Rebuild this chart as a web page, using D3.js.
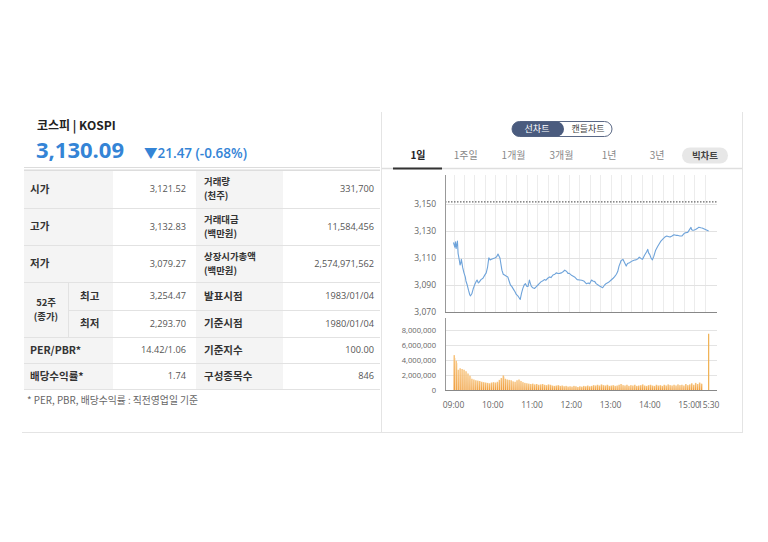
<!DOCTYPE html>
<html><head><meta charset="utf-8">
<script src="https://cdn.jsdelivr.net/npm/d3@7"></script>
<style>
body{margin:0;background:#fff;}
svg{display:block;font-family:'Open Sans','Noto Sans CJK KR',sans-serif;}
</style></head><body>
<svg id="c" width="768" height="542"></svg>
<script>
// ---------------- data ----------------
const title = "코스피 | KOSPI";
const lastPrice = "3,130.09";
const changeText = "▼21.47 (-0.68%)";
const prevClose = 3151.56;
const leftLabels = ["시가", "고가", "저가"];
const leftValues = ["3,121.52", "3,132.83", "3,079.27"];
const week52Title = ["52주", "(종가)"];
const week52Labels = ["최고", "최저"];
const week52Values = ["3,254.47", "2,293.70"];
const extraLabels = ["PER/PBR*", "배당수익률*"];
const extraValues = ["14.42/1.06", "1.74"];
const rightLabels = [["거래량", "(천주)"], ["거래대금", "(백만원)"], ["상장시가총액", "(백만원)"], ["발표시점"], ["기준시점"], ["기준지수"], ["구성종목수"]];
const rightValues = ["331,700", "11,584,456", "2,574,971,562", "1983/01/04", "1980/01/04", "100.00", "846"];
const footnote = "* PER, PBR, 배당수익률 : 직전영업일 기준";
const chartTypes = ["선차트", "캔들차트"];
const periodTabs = ["1일", "1주일", "1개월", "3개월", "1년", "3년"];
const bigChart = "빅차트";
const priceTicks = [3070, 3090, 3110, 3130, 3150];
const volumeTicks = [0, 2000000, 4000000, 6000000, 8000000];
const timeTicks = ["09:00", "10:00", "11:00", "12:00", "13:00", "14:00", "15:00", "15:30"];

const priceTimes = ["09:00","09:02","09:03","09:04","09:05","09:06","09:07","09:09","09:10","09:11","09:12","09:13","09:14","09:16","09:18","09:19","09:21","09:23","09:25","09:26","09:28","09:30","09:33","09:35","09:36","09:38","09:39","09:42","09:45","09:48","09:50","09:52","09:54","09:56","09:58","10:00","10:03","10:05","10:06","10:07","10:08","10:10","10:11","10:13","10:14","10:16","10:18","10:21","10:23","10:25","10:27","10:29","10:32","10:34","10:36","10:39","10:42","10:44","10:46","10:48","10:50","10:52","10:54","10:56","10:57","10:59","11:01","11:04","11:07","11:09","11:11","11:14","11:16","11:19","11:21","11:24","11:27","11:29","11:32","11:35","11:37","11:40","11:42","11:45","11:48","11:50","11:53","11:55","11:57","12:01","12:05","12:09","12:13","12:16","12:19","12:23","12:26","12:28","12:31","12:33","12:36","12:38","12:41","12:44","12:48","12:51","12:53","12:57","13:01","13:04","13:06","13:09","13:11","13:13","13:15","13:16","13:19","13:21","13:24","13:26","13:29","13:32","13:34","13:37","13:39","13:42","13:44","13:47","13:49","13:52","13:55","13:57","13:58","14:00","14:02","14:04","14:06","14:09","14:12","14:15","14:17","14:21","14:23","14:26","14:28","14:31","14:34","14:37","14:40","14:42","14:46","14:49","14:53","14:55","14:58","15:00","15:03","15:04","15:06","15:08","15:10","15:13","15:15","15:18","15:20","15:30"];
const prices = [3121.5,3118,3122,3117,3120,3122.5,3113.5,3108,3104.8,3106,3109,3106,3103,3099,3096,3093,3090,3086,3082.6,3082,3083.5,3087,3091,3093,3093.7,3091.5,3092,3094,3095,3097.5,3099,3103,3110.2,3108.5,3109,3109.5,3110,3110.5,3111,3112,3113,3111,3110,3104,3101,3098,3097.4,3096.5,3096,3093,3090,3089,3086.6,3085,3083,3081.5,3079.3,3084,3087.5,3090,3091,3089,3089,3093.7,3092,3089,3088,3087.5,3089,3090,3091,3092.5,3093,3094,3093.5,3095,3096,3095.5,3097.4,3098,3099,3098.5,3098.6,3099,3100,3101,3100,3098.6,3098.6,3097,3096,3094,3093.7,3093.5,3093,3091,3091.5,3091,3093.7,3093,3092.5,3091,3090,3089,3088,3090,3091,3092,3093.7,3095,3096,3098,3100,3104,3106.5,3108,3109,3107,3104,3106,3106.5,3107.5,3108,3108.5,3108.6,3109.5,3110.6,3109.5,3109,3112,3114.5,3116.4,3114,3112.5,3110,3108.6,3111,3115.8,3118.5,3120.9,3122.5,3124.6,3125.5,3126.3,3126,3125.5,3126.3,3127.2,3126.8,3126.8,3126.3,3126.3,3128.4,3128.8,3129,3130.5,3132.7,3131,3130.5,3130.8,3131.2,3132,3132.83,3132.4,3132.2,3130.09];

// volume per 3-minute bar from 09:00 (millions of shares)
const volumeStart = "09:00";
const volumeStepMin = 3;
const volumesM = [4.65,3.9,2.7,2.9,2.8,2.7,2.5,2.2,1.9,1.5,1.4,1.3,1.25,1.2,1.1,1.05,1.0,0.95,0.9,1.0,1.05,1.0,1.1,1.35,1.6,1.95,1.5,1.4,1.35,1.3,1.15,1.1,1.3,1.4,1.2,1.05,0.95,0.9,0.85,0.8,0.85,0.75,0.8,0.7,0.75,0.8,0.7,0.65,0.75,0.7,0.6,0.55,0.6,0.65,0.55,0.6,0.5,0.55,0.45,0.5,0.45,0.55,0.5,0.4,0.5,0.45,0.55,0.5,0.6,0.5,0.55,0.65,0.6,0.7,0.6,0.75,0.65,0.6,0.7,0.55,0.6,0.65,0.55,0.6,0.7,0.8,0.65,0.6,0.7,0.55,0.65,0.6,0.7,0.55,0.6,0.65,0.75,0.6,0.55,0.65,0.7,0.6,0.55,0.7,0.6,0.65,0.55,0.7,0.6,0.75,0.65,0.6,0.7,0.6,0.75,0.65,0.7,0.6,0.8,0.65,0.75,0.9,0.7,0.95,0.8,1.0,0.85];
const closingTime = "15:30";
const closingVolumeM = 7.5;

// ---------------- drawing ----------------
const svg = d3.select("#c");
const FONT_KR = "'Noto Sans CJK KR','Open Sans',sans-serif";
const blue = "#3484d6";

svg.append("line").attr("x1", 381.5).attr("x2", 381.5).attr("y1", 112).attr("y2", 432).attr("stroke", "#e4e4e4");
svg.append("line").attr("x1", 742.5).attr("x2", 742.5).attr("y1", 112).attr("y2", 432).attr("stroke", "#e4e4e4");
svg.append("line").attr("x1", 22).attr("x2", 743).attr("y1", 432.5).attr("y2", 432.5).attr("stroke", "#e4e4e4");

svg.append("text").attr("x", 37).attr("y", 130).attr("font-size", 12).attr("font-weight", 600)
  .attr("fill", "#222").attr("font-family", FONT_KR).text(title);
svg.append("text").attr("x", 36).attr("y", 157.5).attr("font-size", 22).attr("font-weight", 700)
  .attr("fill", blue).text(lastPrice);
svg.append("text").attr("x", 144).attr("y", 157.5).attr("font-size", 13.5).attr("font-weight", 600)
  .attr("fill", blue).text(changeText);
svg.append("line").attr("x1", 24).attr("x2", 380).attr("y1", 167.5).attr("y2", 167.5).attr("stroke", "#dcdcdc");

const rowB = [170, 208, 245, 282, 310, 337, 363, 389];
const colB = [24, 113, 196, 283, 380];
const shade = "#f4f4f4";
const g = svg.append("g");
g.append("rect").attr("x", colB[0]).attr("y", rowB[0]).attr("width", colB[1] - colB[0]).attr("height", rowB[7] - rowB[0]).attr("fill", shade);
g.append("rect").attr("x", colB[2]).attr("y", rowB[0]).attr("width", colB[3] - colB[2]).attr("height", rowB[7] - rowB[0]).attr("fill", shade);
rowB.forEach((y, i) => {
  const x1 = (i === 4) ? 68 : colB[0];
  g.append("line").attr("x1", x1).attr("x2", colB[2]).attr("y1", y + 0.5).attr("y2", y + 0.5).attr("stroke", "#e2e2e2");
  g.append("line").attr("x1", colB[2]).attr("x2", colB[4]).attr("y1", y + 0.5).attr("y2", y + 0.5).attr("stroke", "#e2e2e2");
});
g.append("line").attr("x1", 68.5).attr("x2", 68.5).attr("y1", rowB[3]).attr("y2", rowB[5]).attr("stroke", "#e2e2e2");
g.append("line").attr("x1", 24).attr("x2", 380).attr("y1", 170).attr("y2", 170).attr("stroke", "#d8d8d8");

function label(x, yc, lines, anchor) {
  const lh = 13.8;
  lines.forEach((s, i) => {
    g.append("text").attr("x", x).attr("y", yc + (i - (lines.length - 1) / 2) * lh).attr("dy", "0.35em")
      .attr("font-size", lines.length > 1 ? 9.4 : 10.5).attr("font-weight", 700)
      .attr("fill", "#333").attr("font-family", FONT_KR).attr("text-anchor", anchor || "start").text(s);
  });
}
function value(x, yc, s) {
  g.append("text").attr("x", x).attr("y", yc).attr("dy", "0.35em").attr("font-size", 9.2)
    .attr("fill", "#555").attr("text-anchor", "end").text(s);
}
const mid = i => (rowB[i] + rowB[i + 1]) / 2;
leftLabels.forEach((s, i) => { label(30, mid(i), [s]); value(186, mid(i), leftValues[i]); });
label(46, (rowB[3] + rowB[5]) / 2, week52Title, "middle");
week52Labels.forEach((s, i) => { label(80, mid(3 + i), [s]); value(186, mid(3 + i), week52Values[i]); });
extraLabels.forEach((s, i) => { label(30, mid(5 + i), [s]); value(186, mid(5 + i), extraValues[i]); });
rightLabels.forEach((s, i) => { label(204, mid(i), s); value(374, mid(i), rightValues[i]); });
svg.append("text").attr("x", 27).attr("y", 401).attr("dy", "0.35em").attr("font-size", 9.8)
  .attr("fill", "#666").attr("font-family", FONT_KR).text(footnote);

const pill = svg.append("g");
pill.append("rect").attr("x", 512).attr("y", 121.5).attr("width", 100).attr("height", 15).attr("rx", 7.5)
  .attr("fill", "#fff").attr("stroke", "#5a6885");
pill.append("rect").attr("x", 512).attr("y", 121.5).attr("width", 52).attr("height", 15).attr("rx", 7.5)
  .attr("fill", "#4a5b7e");
pill.append("text").attr("x", 537).attr("y", 129).attr("dy", "0.35em").attr("text-anchor", "middle")
  .attr("font-size", 9).attr("fill", "#fff").attr("font-family", FONT_KR).text(chartTypes[0]);
pill.append("text").attr("x", 588).attr("y", 129).attr("dy", "0.35em").attr("text-anchor", "middle")
  .attr("font-size", 9).attr("fill", "#444").attr("font-family", FONT_KR).text(chartTypes[1]);

const tabX = d3.scalePoint().domain(periodTabs).range([418, 657]);
periodTabs.forEach((s, i) => {
  svg.append("text").attr("x", tabX(s)).attr("y", 155.5).attr("dy", "0.35em").attr("text-anchor", "middle")
    .attr("font-size", 10).attr("font-weight", i === 0 ? 700 : 400).attr("fill", i === 0 ? "#222" : "#888")
    .attr("font-family", FONT_KR).text(s);
});
svg.append("rect").attr("x", 682).attr("y", 147.5).attr("width", 46).attr("height", 16).attr("rx", 8).attr("fill", "#e7e7e7");
svg.append("text").attr("x", 705).attr("y", 155.5).attr("dy", "0.35em").attr("text-anchor", "middle")
  .attr("font-size", 9.5).attr("font-weight", 700).attr("fill", "#444").attr("font-family", FONT_KR).text(bigChart);
svg.append("line").attr("x1", 382).attr("x2", 742).attr("y1", 168.5).attr("y2", 168.5).attr("stroke", "#dedede").attr("stroke-width", 1.5);
svg.append("line").attr("x1", 393).attr("x2", 442).attr("y1", 168.5).attr("y2", 168.5).attr("stroke", "#333").attr("stroke-width", 2);

const parseT = d3.timeParse("%H:%M");
const x = d3.scaleTime().domain([parseT("08:47"), parseT("15:42")]).range([445, 716.5]);
const yP = d3.scaleLinear().domain([3070, 3171.5]).range([312, 175]);
const yV = d3.scaleLinear().domain([0, 9600000]).range([390, 318]);
const plotL = 445, plotR = 717;

const start = parseT("09:00");
const vGrid = d3.range(0, 25).map(i => d3.timeMinute.offset(start, i * 16));
svg.append("g").selectAll("line").data(vGrid).join("line")
  .attr("x1", d => Math.round(x(d)) + 0.5).attr("x2", d => Math.round(x(d)) + 0.5)
  .attr("y1", 175).attr("y2", 312).attr("stroke", "#ececec");
svg.append("g").selectAll("line").data(priceTicks.slice(1)).join("line")
  .attr("x1", plotL).attr("x2", plotR).attr("y1", d => Math.round(yP(d)) + 0.5).attr("y2", d => Math.round(yP(d)) + 0.5)
  .attr("stroke", "#e2e2e2");
svg.append("g").selectAll("text").data(priceTicks).join("text")
  .attr("x", 436).attr("y", d => yP(d)).attr("dy", "0.35em").attr("text-anchor", "end")
  .attr("font-size", 8.5).attr("fill", "#666").text(d => d3.format(",")(d));
svg.append("line").attr("x1", plotL).attr("x2", plotR).attr("y1", yP(prevClose)).attr("y2", yP(prevClose))
  .attr("stroke", "#666").attr("stroke-width", 1.2).attr("stroke-dasharray", "1.5,1.5");
const pts = priceTimes.map((t, i) => [parseT(t), prices[i]]);
svg.append("path").datum(pts)
  .attr("d", d3.line().x(d => x(d[0])).y(d => yP(d[1])))
  .attr("fill", "none").attr("stroke", "#6ea3da").attr("stroke-width", 1.1).attr("stroke-linejoin", "round");
svg.append("line").attr("x1", plotL + 0.5).attr("x2", plotL + 0.5).attr("y1", 175).attr("y2", 312).attr("stroke", "#999");
svg.append("line").attr("x1", plotL).attr("x2", plotR).attr("y1", 312.5).attr("y2", 312.5).attr("stroke", "#888").attr("stroke-width", 1.2);

svg.append("g").selectAll("line").data(volumeTicks.slice(1)).join("line")
  .attr("x1", plotL).attr("x2", plotR).attr("y1", d => Math.round(yV(d)) + 0.5).attr("y2", d => Math.round(yV(d)) + 0.5)
  .attr("stroke", "#e4e4e4");
svg.append("g").selectAll("text").data(volumeTicks).join("text")
  .attr("x", 436).attr("y", d => yV(d)).attr("dy", "0.35em").attr("text-anchor", "end")
  .attr("font-size", 7.6).attr("fill", "#666").text(d => d3.format(",")(d));

const defs = svg.append("defs");
const grad = defs.append("linearGradient").attr("id", "vg").attr("x1", 0).attr("x2", 0).attr("y1", 0).attr("y2", 1);
grad.append("stop").attr("offset", "0%").attr("stop-color", "#f7c47e");
grad.append("stop").attr("offset", "100%").attr("stop-color", "#ef9c3a");

const vStart = parseT(volumeStart);
const vols = volumesM.map((v, i) => [d3.timeMinute.offset(vStart, i * volumeStepMin), v * 1e6]);
const bw = x(d3.timeMinute.offset(vStart, volumeStepMin)) - x(vStart);
svg.append("g").selectAll("rect").data(vols).join("rect")
  .attr("x", d => x(d[0])).attr("width", bw * 0.75)
  .attr("y", d => yV(d[1])).attr("height", d => yV(0) - yV(d[1]))
  .attr("fill", "url(#vg)");
svg.append("g").selectAll("rect").data(vols).join("rect")
  .attr("x", d => x(d[0]) + bw * 0.75).attr("width", bw * 0.25)
  .attr("y", d => yV(d[1] * 0.92)).attr("height", d => yV(0) - yV(d[1] * 0.92))
  .attr("fill", "#fbd9ab");
svg.append("rect").attr("x", x(parseT(closingTime)) - 0.6).attr("width", 1.2)
  .attr("y", yV(closingVolumeM * 1e6)).attr("height", yV(0) - yV(closingVolumeM * 1e6))
  .attr("fill", "#f0b050");
svg.append("line").attr("x1", plotL + 0.5).attr("x2", plotL + 0.5).attr("y1", 318).attr("y2", 390).attr("stroke", "#999");
svg.append("line").attr("x1", plotL).attr("x2", plotR).attr("y1", 390.5).attr("y2", 390.5).attr("stroke", "#888").attr("stroke-width", 1.2);

svg.append("g").selectAll("text").data(timeTicks).join("text")
  .attr("x", d => x(parseT(d))).attr("y", 405).attr("dy", "0.35em").attr("text-anchor", "middle")
  .attr("font-size", 8.5).attr("fill", "#666").text(d => d);
</script>
</body></html>
